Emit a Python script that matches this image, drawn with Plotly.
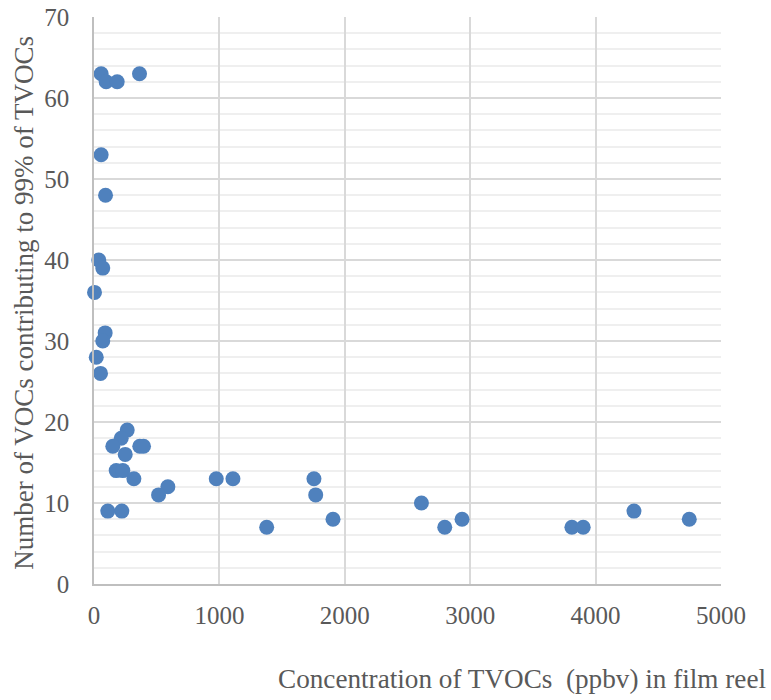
import plotly.graph_objects as go

tvoc_ppbv = [57, 97, 185, 363, 57, 92, 38, 70, 4, 89, 70, 18, 52,
             265, 217, 150, 365, 395, 249, 177, 230, 318, 589, 515,
             975, 1108, 1754, 1768, 110, 222, 1377, 1906, 2611, 2797,
             2935, 3811, 3901, 4306, 4747]
n_vocs = [63, 62, 62, 63, 53, 48, 40, 39, 36, 31, 30, 28, 26,
          19, 18, 17, 17, 17, 16, 14, 14, 13, 12, 11,
          13, 13, 13, 11, 9, 9, 7, 8, 10, 7,
          8, 7, 7, 9, 8]

x_ticks = [0, 1000, 2000, 3000, 4000, 5000]
y_ticks = [0, 10, 20, 30, 40, 50, 60, 70]

FONT = "Liberation Serif"
GRAY = "#595959"

fig = go.Figure()
fig.add_trace(go.Scatter(
    x=tvoc_ppbv, y=n_vocs, mode="markers",
    marker=dict(size=15, color="#4F81BD", line=dict(width=0)),
    showlegend=False, cliponaxis=False,
))

fig.update_layout(
    width=771, height=700,
    margin=dict(l=94, r=50, t=17, b=115.5, autoexpand=False),
    paper_bgcolor="white", plot_bgcolor="white",
    font=dict(family=FONT, color=GRAY, size=25),
    xaxis=dict(range=[0, 5000], tickvals=x_ticks, showgrid=True,
               gridcolor="#d9d9d9", gridwidth=1.5, zeroline=False,
               showline=True, linecolor="#bfbfbf", linewidth=1.5,
               ticks="", ticklabelstandoff=8, automargin=False,
               ticklabeloverflow="allow",
               tickfont=dict(size=25, family=FONT, color=GRAY)),
    yaxis=dict(range=[0, 70], tickvals=y_ticks, showgrid=True,
               gridcolor="#d9d9d9", gridwidth=1.5, zeroline=False,
               showline=True, linecolor="#bfbfbf", linewidth=1.5,
               ticks="", ticklabelstandoff=18, automargin=False,
               ticklabeloverflow="allow",
               tickfont=dict(size=25, family=FONT, color=GRAY),
               minor=dict(dtick=2, showgrid=True, gridcolor="#efefef",
                          gridwidth=1.5)),
    annotations=[
        dict(text="Concentration of TVOCs  (ppbv) in film reel",
             xref="paper", yref="paper", x=1.075, y=-0.168,
             xanchor="right", yanchor="middle", showarrow=False,
             font=dict(size=27.2, family=FONT, color=GRAY)),
        dict(text="Number of VOCs contributing to 99% of TVOCs",
             xref="paper", yref="paper", x=-0.1116, y=0.496,
             xanchor="center", yanchor="middle", showarrow=False,
             textangle=-90,
             font=dict(size=27, family=FONT, color=GRAY)),
    ],
)

fig.write_html("out.html",
               config={"displayModeBar": False},
               post_script="document.body.style.margin='0';")
